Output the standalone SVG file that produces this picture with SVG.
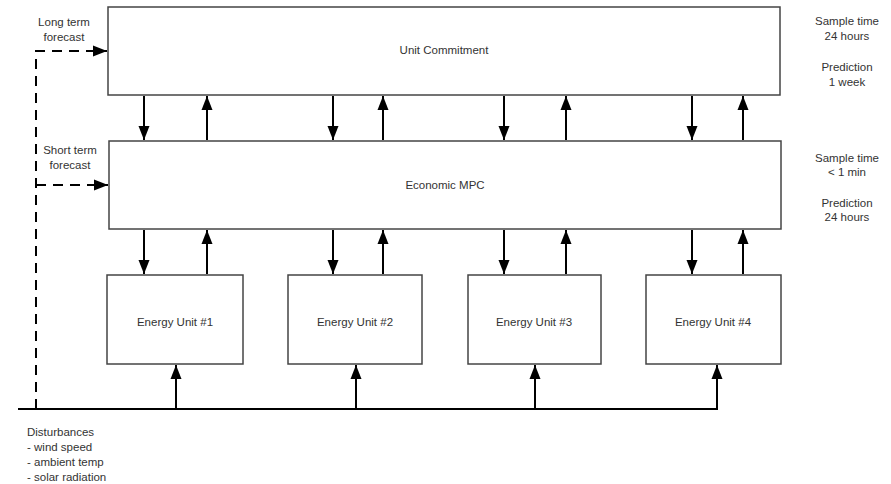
<svg xmlns="http://www.w3.org/2000/svg" width="891" height="484" viewBox="0 0 891 484">
<style>
.box{fill:#fff;stroke:#444;stroke-width:1.5}
.ln{stroke:#000;stroke-width:2;fill:none}
.dash{stroke:#000;stroke-width:2;fill:none;stroke-dasharray:10,7}
text{font-family:"Liberation Sans",Arial,sans-serif;font-size:11.5px;fill:#333}
.c{text-anchor:middle}
</style>
<defs>
<marker id="ah" viewBox="0 0 14 12" refX="14" refY="6" markerWidth="14" markerHeight="12" markerUnits="userSpaceOnUse" orient="auto">
<path d="M0,0.5 L14,6 L0,11.5 Z" fill="#000"/>
</marker>
</defs>
<rect width="891" height="484" fill="#fff"/>
<g id="uc"><rect class="box" x="108" y="7" width="672" height="88"/><text class="c" x="444" y="54">Unit Commitment</text></g>
<g id="mpc"><rect class="box" x="109" y="141" width="672" height="88"/><text class="c" x="445" y="189">Economic MPC</text></g>
<g id="eu1"><rect class="box" x="107" y="275" width="136" height="89"/><text class="c" x="175" y="326">Energy Unit #1</text></g>
<g id="eu2"><rect class="box" x="288" y="275" width="134" height="89"/><text class="c" x="355" y="326">Energy Unit #2</text></g>
<g id="eu3"><rect class="box" x="468" y="275" width="133" height="89"/><text class="c" x="534" y="326">Energy Unit #3</text></g>
<g id="eu4"><rect class="box" x="646" y="275" width="135" height="89"/><text class="c" x="713" y="326">Energy Unit #4</text></g>
<g id="labels">
<text class="c" x="64" y="26">Long term</text>
<text class="c" x="64" y="41">forecast</text>
<text class="c" x="70" y="154">Short term</text>
<text class="c" x="70" y="169">forecast</text>
<text class="c" x="847" y="25">Sample time</text>
<text class="c" x="847" y="40">24 hours</text>
<text class="c" x="847" y="71">Prediction</text>
<text class="c" x="847" y="86">1 week</text>
<text class="c" x="847" y="162">Sample time</text>
<text class="c" x="847" y="176">&lt; 1 min</text>
<text class="c" x="847" y="207">Prediction</text>
<text class="c" x="847" y="221">24 hours</text>
<text x="27" y="436">Disturbances</text>
<text x="27" y="451">- wind speed</text>
<text x="27" y="466">- ambient temp</text>
<text x="27" y="481">- solar radiation</text>
</g>
<g id="connectors">
<path class="dash" d="M36,409 V51 H94" />
<path class="ln" d="M92,51 H107" marker-end="url(#ah)"/>
<path class="dash" d="M36,185 H94"/>
<path class="ln" d="M92,185 H108" marker-end="url(#ah)"/>
<path class="ln" d="M144,96 V140" marker-end="url(#ah)"/>
<path class="ln" d="M207,140 V96" marker-end="url(#ah)"/>
<path class="ln" d="M333,96 V140" marker-end="url(#ah)"/>
<path class="ln" d="M383,140 V96" marker-end="url(#ah)"/>
<path class="ln" d="M504,96 V140" marker-end="url(#ah)"/>
<path class="ln" d="M566,140 V96" marker-end="url(#ah)"/>
<path class="ln" d="M692,96 V140" marker-end="url(#ah)"/>
<path class="ln" d="M743,140 V96" marker-end="url(#ah)"/>
<path class="ln" d="M144,230 V274" marker-end="url(#ah)"/>
<path class="ln" d="M207,274 V230" marker-end="url(#ah)"/>
<path class="ln" d="M333,230 V274" marker-end="url(#ah)"/>
<path class="ln" d="M383,274 V230" marker-end="url(#ah)"/>
<path class="ln" d="M504,230 V274" marker-end="url(#ah)"/>
<path class="ln" d="M566,274 V230" marker-end="url(#ah)"/>
<path class="ln" d="M692,230 V274" marker-end="url(#ah)"/>
<path class="ln" d="M743,274 V230" marker-end="url(#ah)"/>
<path class="ln" d="M18,409 H718"/>
<path class="ln" d="M176,409 V365" marker-end="url(#ah)"/>
<path class="ln" d="M356,409 V365" marker-end="url(#ah)"/>
<path class="ln" d="M535,409 V365" marker-end="url(#ah)"/>
<path class="ln" d="M717,409 V365" marker-end="url(#ah)"/>
</g>
</svg>
